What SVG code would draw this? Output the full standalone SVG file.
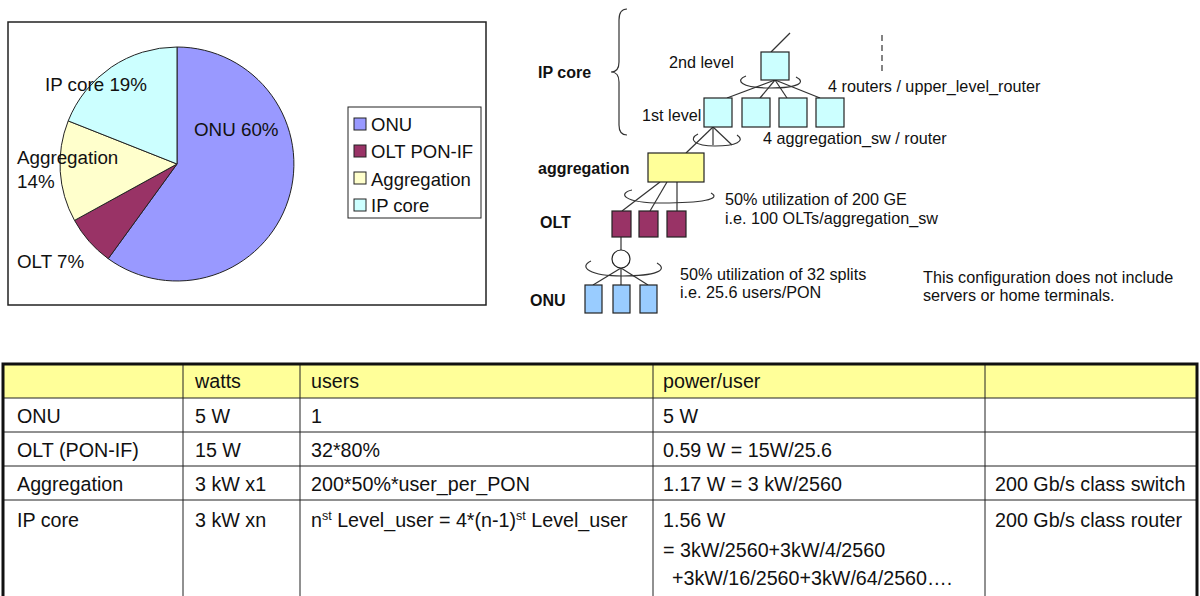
<svg xmlns="http://www.w3.org/2000/svg" width="1200" height="596" viewBox="0 0 1200 596">
<style>
text{font-family:"Liberation Sans",Arial,sans-serif;fill:#111}
.pl{font-size:18.8px}
.lg{font-size:18.5px}
.dt{font-size:16.2px}
.b{font-size:16px;font-weight:bold}
.tb{font-size:19.7px}
.sl{stroke:#222;stroke-width:1}
.ln{stroke:#333;stroke-width:1.2;fill:none}
.nd{stroke:#222;stroke-width:1.2}
.cy{fill:#CCFFFF}
.ye{fill:#FFFF99}
.ol{fill:#993366}
.on{fill:#99CCFF}
.grid{stroke:#222;stroke-width:1}
</style>
<rect width="1200" height="596" fill="#fff"/>

<g id="pie-chart">
<rect x="8" y="22" width="478" height="283" fill="#fff" stroke="#222" stroke-width="1.5"/>
<path class="sl" fill="#9999FF" d="M177,164 L177,47 A117,117 0 1 1 108.2,258.7 Z"/>
<path class="sl" fill="#993366" d="M177,164 L108.2,258.7 A117,117 0 0 1 74.5,220.4 Z"/>
<path class="sl" fill="#FFFFCC" d="M177,164 L74.5,220.4 A117,117 0 0 1 68.2,120.9 Z"/>
<path class="sl" fill="#CCFFFF" d="M177,164 L68.2,120.9 A117,117 0 0 1 177,47 Z"/>
<text class="pl" x="45" y="91">IP core 19%</text>
<text class="pl" x="194" y="136">ONU 60%</text>
<text class="pl" x="17" y="164">Aggregation</text>
<text class="pl" x="17" y="188">14%</text>
<text class="pl" x="17" y="268">OLT 7%</text>
</g>

<g id="legend">
<rect x="348" y="107" width="133" height="111" fill="#fff" stroke="#222" stroke-width="1"/>
<rect x="354" y="118" width="12" height="12" fill="#9999FF" stroke="#222"/>
<rect x="354" y="145" width="12" height="12" fill="#993366" stroke="#222"/>
<rect x="354" y="172" width="12" height="12" fill="#FFFFCC" stroke="#222"/>
<rect x="354" y="199" width="12" height="12" fill="#CCFFFF" stroke="#222"/>
<text class="lg" x="371" y="131">ONU</text>
<text class="lg" x="371" y="158">OLT PON-IF</text>
<text class="lg" x="371" y="186">Aggregation</text>
<text class="lg" x="371" y="212">IP core</text>
</g>

<g id="connectors">
<path class="ln" d="M627,9 Q619,9 619,20 L619,62 Q619,72 611,72 Q619,72 619,82 L619,125 Q619,135 627,135"/>
<line class="ln" x1="771" y1="52" x2="790" y2="33"/>
<line class="ln" x1="882" y1="35" x2="882" y2="72" stroke-dasharray="6,4"/>
<line class="ln" x1="775" y1="80" x2="727" y2="98"/>
<line class="ln" x1="775" y1="80" x2="760" y2="98"/>
<line class="ln" x1="775" y1="80" x2="787" y2="98"/>
<line class="ln" x1="775" y1="80" x2="820" y2="98"/>
<path class="ln" d="M746,76 C735,80 740,88 770,88 C800,88 806,82 796,77"/>
<line class="ln" x1="713" y1="127" x2="686" y2="153"/>
<line class="ln" x1="713" y1="127" x2="713" y2="145"/>
<line class="ln" x1="713" y1="127" x2="732" y2="145"/>
<path class="ln" d="M698,134 C688,139 694,146 715,146 C736,146 746,141 737,135"/>
<line class="ln" x1="660" y1="182" x2="622" y2="211"/>
<line class="ln" x1="667" y1="182" x2="650" y2="211"/>
<line class="ln" x1="677" y1="182" x2="677" y2="211"/>
<path class="ln" d="M632,190 C618,193 622,203 662,203 C702,203 722,199 711,193"/>
<line class="ln" x1="621" y1="237" x2="621" y2="250"/>
<line class="ln" x1="621" y1="268" x2="593" y2="285"/>
<line class="ln" x1="621" y1="268" x2="621" y2="285"/>
<line class="ln" x1="621" y1="268" x2="648" y2="285"/>
<path class="ln" d="M591,261 C578,267 590,276 622,276 C656,276 669,270 657,263"/>
</g>

<g id="ip-core-label"><text class="b" x="538" y="78">IP core</text></g>
<g id="router-2nd">
<rect class="nd cy" x="761" y="52" width="28" height="28"/>
<text class="dt" x="669" y="68">2nd level</text>
<text class="dt" x="828" y="92">4 routers / upper_level_router</text>
</g>
<g id="router-1st">
<rect class="nd cy" x="704" y="98" width="28" height="29"/>
<rect class="nd cy" x="742" y="98" width="28" height="29"/>
<rect class="nd cy" x="779" y="98" width="28" height="29"/>
<rect class="nd cy" x="816" y="98" width="28" height="29"/>
<text class="dt" x="642" y="121">1st level</text>
<text class="dt" x="763" y="144">4 aggregation_sw / router</text>
</g>
<g id="aggregation">
<rect class="nd ye" x="648" y="153" width="56" height="29"/>
<text class="b" x="538" y="174">aggregation</text>
<text class="dt" x="725" y="205">50% utilization of 200 GE</text>
<text class="dt" x="725" y="224">i.e. 100 OLTs/aggregation_sw</text>
</g>
<g id="olt">
<rect class="nd ol" x="612" y="211" width="19" height="26"/>
<rect class="nd ol" x="639" y="211" width="19" height="26"/>
<rect class="nd ol" x="667" y="211" width="19" height="26"/>
<text class="b" x="540" y="228">OLT</text>
</g>
<g id="splitter">
<circle cx="621" cy="259" r="9" fill="#fff" stroke="#222" stroke-width="1.2"/>
<text class="dt" x="680" y="280">50% utilization of 32 splits</text>
<text class="dt" x="680" y="298">i.e. 25.6 users/PON</text>
</g>
<g id="onu">
<rect class="nd on" x="585" y="285" width="17" height="28"/>
<rect class="nd on" x="613" y="285" width="17" height="28"/>
<rect class="nd on" x="640" y="285" width="17" height="28"/>
<text class="b" x="530" y="306">ONU</text>
</g>
<g id="note">
<text class="dt" x="923" y="283">This configuration does not include</text>
<text class="dt" x="923" y="301">servers or home terminals.</text>
</g>

<g id="table">
<rect x="3" y="364" width="1194" height="34" fill="#FFFF99"/>
<line class="grid" x1="3" y1="398" x2="1197" y2="398"/>
<line class="grid" x1="3" y1="432" x2="1197" y2="432"/>
<line class="grid" x1="3" y1="466" x2="1197" y2="466"/>
<line class="grid" x1="3" y1="500" x2="1197" y2="500"/>
<line class="grid" x1="183" y1="364" x2="183" y2="596"/>
<line class="grid" x1="300" y1="364" x2="300" y2="596"/>
<line class="grid" x1="653" y1="364" x2="653" y2="596"/>
<line class="grid" x1="985" y1="364" x2="985" y2="596"/>
<rect x="3" y="364" width="1194" height="240" fill="none" stroke="#111" stroke-width="3"/>
<text class="tb" x="195" y="388">watts</text>
<text class="tb" x="311" y="388">users</text>
<text class="tb" x="663" y="388">power/user</text>
<text class="tb" x="17" y="423">ONU</text>
<text class="tb" x="195" y="423">5 W</text>
<text class="tb" x="311" y="423">1</text>
<text class="tb" x="663" y="423">5 W</text>
<text class="tb" x="17" y="457">OLT (PON-IF)</text>
<text class="tb" x="195" y="457">15 W</text>
<text class="tb" x="311" y="457">32*80%</text>
<text class="tb" x="663" y="457">0.59 W = 15W/25.6</text>
<text class="tb" x="17" y="491">Aggregation</text>
<text class="tb" x="195" y="491">3 kW x1</text>
<text class="tb" x="311" y="491">200*50%*user_per_PON</text>
<text class="tb" x="663" y="491">1.17 W = 3 kW/2560</text>
<text class="tb" x="995" y="491">200 Gb/s class switch</text>
<text class="tb" x="17" y="527">IP core</text>
<text class="tb" x="195" y="527">3 kW xn</text>
<text class="tb" x="311" y="527">n<tspan font-size="12.5" dy="-7">st</tspan><tspan dy="7"> Level_user = 4*(n-1)</tspan><tspan font-size="12.5" dy="-7">st</tspan><tspan dy="7"> Level_user</tspan></text>
<text class="tb" x="663" y="527">1.56 W</text>
<text class="tb" x="663" y="557">= 3kW/2560+3kW/4/2560</text>
<text class="tb" x="672" y="585">+3kW/16/2560+3kW/64/2560….</text>
<text class="tb" x="995" y="527">200 Gb/s class router</text>
</g>
</svg>
